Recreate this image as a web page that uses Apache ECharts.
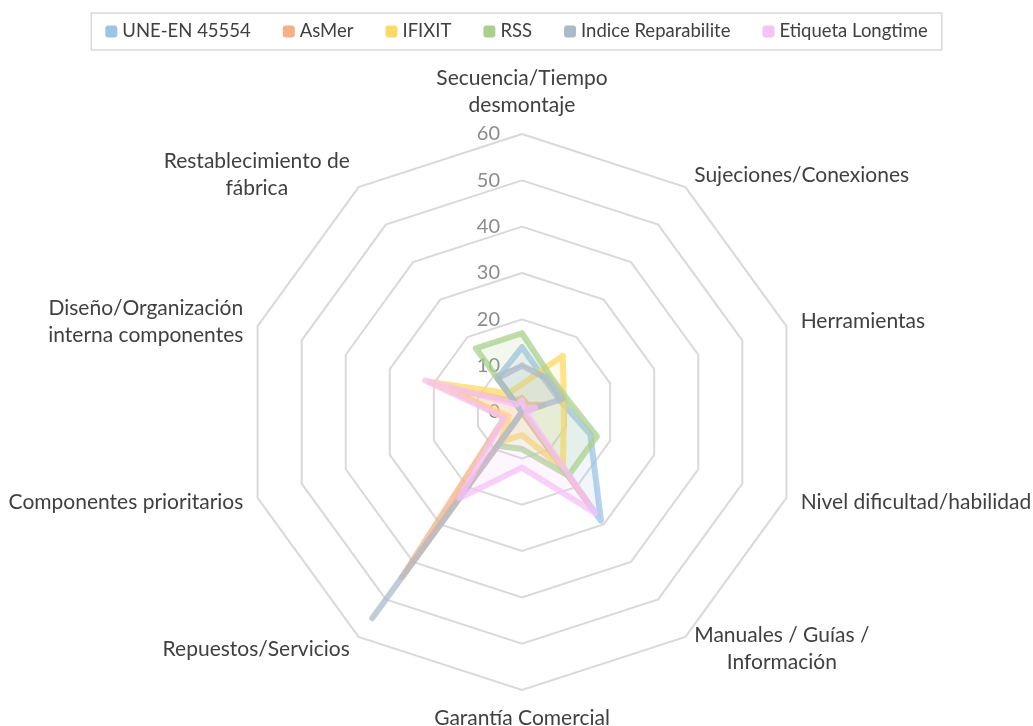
<!DOCTYPE html>
<html>
<head>
<meta charset="utf-8">
<script src="https://cdn.jsdelivr.net/npm/echarts@6/dist/echarts.min.js"></script>
<style>
  html, body { margin: 0; padding: 0; background: #fff; }
  #main { width: 1033px; height: 726px; }
</style>
</head>
<body>
<div id="main"></div>
<script>
// axes, clockwise from the top (as in the original chart)
var axisNames = [
  'Secuencia/Tiempo\ndesmontaje',
  'Sujeciones/Conexiones',
  'Herramientas',
  'Nivel dificultad/habilidad',
  'Manuales / Guías /\nInformación',
  'Garantía Comercial',
  'Repuestos/Servicios',
  'Componentes prioritarios',
  'Diseño/Organización\ninterna componentes',
  'Restablecimiento de\nfábrica'
];
var seriesNames = ['UNE-EN 45554', 'AsMer', 'IFIXIT', 'RSS', 'Indice Reparabilite', 'Etiqueta Longtime'];
var colors = ['#9dc3e6', '#f4b183', '#ffd966', '#a9d18e', '#adb9ca', '#f5c2f5'];

var uneEn    = [14, 8.5, 8.5, 15.5, 29, 0, 0, 0, 0, 9];
var asMer    = [3, 2, 5, 0, 24, 0, 44, 4, 16, 3];
var ifixit   = [6, 15, 9.5, 9.5, 15, 5, 8, 3, 21, 5];
var rss      = [17, 10, 10, 17, 17, 8, 9, 0, 0, 17];
var indice   = [10, 9, 9, 0, 0, 0, 55, 0, 0, 9];
var etiqueta = [2.5, 1, 3, 1, 27, 12, 23, 4, 22, 2];

var allData = [uneEn, asMer, ifixit, rss, indice, etiqueta];

// echarts lays indicators out counter-clockwise, so walk the arrays backwards
var order = [0, 9, 8, 7, 6, 5, 4, 3, 2, 1];
function reorder(arr) {
  return order.map(function (i) { return arr[i]; });
}

var font = 'Lato, "Liberation Sans", sans-serif';

var indicators = reorder(axisNames).map(function (n, k) {
  var ind = { name: n, min: 0, max: 60 };
  if (k === 0) {
    ind.axisLabel = { show: true };
  }
  return ind;
});

var chart = echarts.init(document.getElementById('main'));

chart.setOption({
  backgroundColor: '#fff',
  animation: false,
  color: colors,
  legend: {
    top: 13,
    left: 'center',
    data: seriesNames,
    icon: 'roundRect',
    itemWidth: 12,
    itemHeight: 12,
    itemGap: 32,
    padding: [9, 14],
    borderColor: '#d9d9d9',
    borderWidth: 1.5,
    textStyle: { fontFamily: font, fontSize: 18.5, color: '#404040' }
  },
  radar: {
    center: [522, 412],
    radius: 278,
    startAngle: 90,
    shape: 'polygon',
    splitNumber: 6,
    nameGap: 15,
    axisName: {
      color: '#404040',
      fontFamily: font,
      fontSize: 21,
      lineHeight: 27,
      formatter: function (v) {
        return v.split('\n').map(function (s) { return '{c|' + s + '}'; }).join('\n');
      },
      rich: {
        c: { align: 'center', fontFamily: font, fontSize: 21, color: '#404040', lineHeight: 27 }
      }
    },
    axisLine: { show: false },
    axisTick: { show: false },
    axisLabel: {
      show: false,
      color: '#8c8c8c',
      fontFamily: font,
      fontSize: 20,
      margin: 22
    },
    splitLine: { lineStyle: { color: '#d9d9d9', width: 2 } },
    splitArea: { show: false },
    indicator: indicators
  },
  series: allData.map(function (d, i) {
    return {
      name: seriesNames[i],
      type: 'radar',
      symbol: 'none',
      lineStyle: { width: 6, opacity: 0.75, join: 'round', cap: 'round', color: colors[i] },
      areaStyle: { opacity: 0.15, color: colors[i] },
      itemStyle: { color: colors[i] },
      data: [{ value: reorder(d), name: seriesNames[i] }]
    };
  })
});
</script>
</body>
</html>
